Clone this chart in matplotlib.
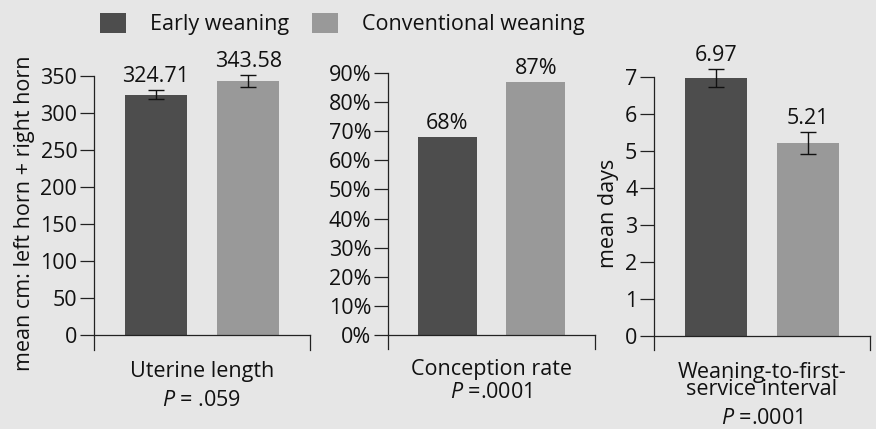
import matplotlib.pyplot as plt
from matplotlib.patches import Patch
from matplotlib.ticker import PercentFormatter

plt.rcParams['font.family'] = ['Open Sans', 'DejaVu Sans']
plt.rcParams['mathtext.fontset'] = 'custom'
plt.rcParams['mathtext.rm'] = 'Open Sans'
plt.rcParams['mathtext.it'] = 'Open Sans:italic'

groups = ["Early weaning", "Conventional weaning"]
colors = ["#4d4d4d", "#999999"]

uterine = [324.71, 343.58]
uterine_err = [6, 8]
conception = [68, 87]
interval = [6.97, 5.21]
interval_err = [0.25, 0.3]

W, H = 876, 429
BG = "#e6e6e6"
FS = 15.5

fig = plt.figure(figsize=(W / 100, H / 100), dpi=100, facecolor=BG)


def make_ax(left, right, top, bottom):
    # pixel box -> figure fraction
    return fig.add_axes([left / W, 1 - bottom / H, (right - left) / W, (bottom - top) / H])


def style(ax, top, ext, ticks):
    ax.set_facecolor(BG)
    ax.set_ylim(-ext, top)
    ax.set_xlim(-0.67, 1.67)
    ax.set_yticks(ticks)
    ax.set_xticks([])
    ax.spines['top'].set_visible(False)
    ax.spines['bottom'].set_position(('data', 0))
    ax.spines['right'].set_bounds(-ext, 0)
    for s in ax.spines.values():
        s.set_color("#222222")
        s.set_linewidth(0.9)
    ax.tick_params(axis='y', length=10, width=0.9, color="#222222",
                   labelsize=FS, labelcolor="#111111", pad=2)


def bars(ax, vals, err, labels, gap):
    x = range(len(vals))
    ax.bar(x, vals, width=0.67, color=colors, zorder=2, clip_on=False)
    if err is not None:
        ax.errorbar(x, vals, yerr=err, fmt='none', ecolor="#111111",
                    elinewidth=1, capsize=6, capthick=1, zorder=3, clip_on=False)
    tops = [v + (e if err is not None else 0) for v, e in zip(vals, err or [0] * len(vals))]
    for i, (t, lab) in enumerate(zip(tops, labels)):
        ax.annotate(lab, (i, t), xytext=(0, gap), textcoords='offset points',
                    ha='center', va='bottom', fontsize=FS, color="#111111",
                    annotation_clip=False)


def caption(ax, lines, y1, ptxt, y2, spacing=1.0):
    cx = ax.get_position().x0 + ax.get_position().width / 2
    fig.text(cx, 1 - y1 / H, lines, ha='center', va='center', fontsize=FS,
             color="#111111", linespacing=spacing)
    fig.text(cx, 1 - y2 / H, ptxt, ha='center', va='center', fontsize=FS, color="#111111")


# Uterine length
ax1 = make_ax(94, 310, 76, 350)
style(ax1, 350, 20.3, range(0, 351, 50))
bars(ax1, uterine, uterine_err, [f"{v:.2f}" for v in uterine], 2)
ax1.set_ylabel("mean cm: left horn + right horn", fontsize=FS, color="#111111", labelpad=4)
caption(ax1, "Uterine length", 372, r"$P$ = .059", 400)

# Conception rate
ax2 = make_ax(388, 595, 73, 349)
style(ax2, 90, 4.8, range(0, 91, 10))
ax2.yaxis.set_major_formatter(PercentFormatter(decimals=0))
bars(ax2, conception, None, [f"{v}%" for v in conception], 2)
caption(ax2, "Conception rate", 370, r"$P$ =.0001", 393)

# Weaning-to-first-service interval
ax3 = make_ax(654, 870, 77, 350)
style(ax3, 7, 0.38, range(0, 8))
bars(ax3, interval, interval_err, [f"{v:.2f}" for v in interval], 2)
ax3.set_ylabel("mean days", fontsize=FS, color="#111111", labelpad=4)
caption(ax3, "Weaning-to-first-\nservice interval", 381, r"$P$ =.0001", 418, spacing=0.75)

handles = [Patch(facecolor=c, edgecolor='none') for c in colors]
fig.legend(handles, groups, loc='center left', bbox_to_anchor=(100 / W, 1 - 24 / H),
           ncol=2, frameon=False, fontsize=FS, handlelength=1.2, handleheight=1.1,
           handletextpad=1.1, columnspacing=1.1, borderpad=0, borderaxespad=0,
           labelcolor="#111111")

fig.savefig("out.png", dpi=100, facecolor=BG)
